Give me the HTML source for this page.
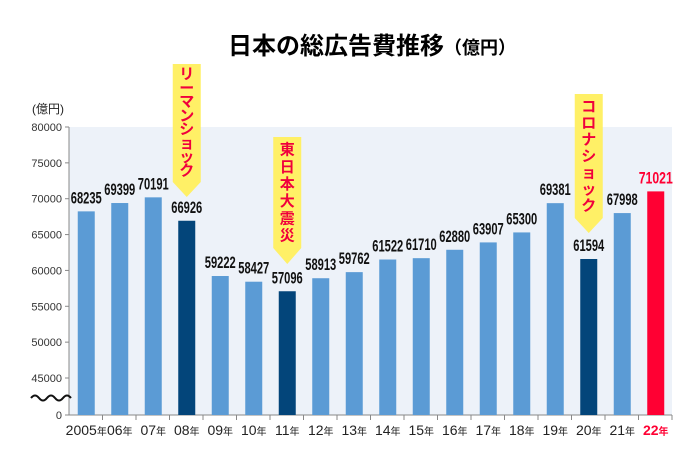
<!DOCTYPE html>
<html><head><meta charset="utf-8"><style>
body{margin:0;background:#fff;}
svg{display:block;font-family:"Liberation Sans","Noto Sans CJK JP",sans-serif;}
.val{font-family:"Liberation Sans",sans-serif;font-size:17px;font-weight:bold;}
</style></head><body>
<svg id="chart" width="679" height="459">
<text x="372" y="54" text-anchor="middle" font-size="24" font-weight="bold">日本の総広告費推移<tspan font-size="18">（億円）</tspan></text>
<rect x="69" y="127" width="603" height="288" fill="#edf2f9"/>
<text x="32" y="113" font-size="12" fill="#222">(億円)</text>
<g id="axes"></g>
<g id="bars"></g>
<g id="callouts"></g>
</svg>
<script>
const years=["2005","06","07","08","09","10","11","12","13","14","15","16","17","18","19","20","21","22"];
const values=[68235,69399,70191,66926,59222,58427,57096,58913,59762,61522,61710,62880,63907,65300,69381,61594,67998,71021];
const highlight=[3,6,15];
const yTicks=[45000,50000,55000,60000,65000,70000,75000,80000];
const callouts=[{i:3,text:"リーマンショック",top:64,rectBottom:182,tip:197},{i:6,text:"東日本大震災",top:137,rectBottom:248,tip:264},{i:15,text:"コロナショック",top:94,rectBottom:218,tip:233}];
const NS="http://www.w3.org/2000/svg";
const x0=69,step=33.5,bw=17;
function y(v){return 378-(v-45000)*251/35000;}
function cx(i){return x0+step*i+step/2+0.5;}
function mk(tag,attrs,parent){const e=document.createElementNS(NS,tag);for(const k in attrs)e.setAttribute(k,attrs[k]);parent.appendChild(e);return e;}
const axes=document.getElementById('axes'),bars=document.getElementById('bars'),co=document.getElementById('callouts');
let l=mk('line',{x1:69,y1:127,x2:69,y2:415,stroke:'#888','stroke-width':1},axes);


l=mk('line',{x1:69,y1:415,x2:672,y2:415,stroke:'#888','stroke-width':1},axes);


yTicks.forEach(t=>{const yy=y(t);
 mk('line',{x1:65,y1:yy,x2:69,y2:yy,stroke:'#888'},axes);
 const tx=mk('text',{x:62,y:yy+4,'text-anchor':'end','font-size':11,fill:'#333'},axes);tx.textContent=t;
 
 
});
mk('line',{x1:65,y1:415,x2:69,y2:415,stroke:'#888'},axes);
let z=mk('text',{x:62,y:419,'text-anchor':'end','font-size':11,fill:'#333'},axes);z.textContent='0';


let br=mk('path',{d:'M31 398 q4 -5 8 0 t8 0 t8 0 t8 0 t8 0',fill:'none',stroke:'#111','stroke-width':2},axes);


years.forEach((yr,i)=>{
 const v=values[i],c=cx(i),top=y(v);
 const last=i===years.length-1;
 const col=last?'#ff0033':(highlight.includes(i)?'#03457a':'#5b9bd5');
 const b=mk('rect',{x:c-bw/2,y:top,width:bw,height:415-top,fill:col},bars);
 
 
 const w=last?34:31;
 const t=mk('text',{x:c-w/2,y:top-8,textLength:w,lengthAdjust:'spacingAndGlyphs',class:'val',fill:last?'#ff0033':'#111','font-size':last?19:17,'font-weight':last?'normal':'bold'},bars);t.textContent=v;
 
 
 mk('line',{x1:x0+step*(i+1),y1:415,x2:x0+step*(i+1),y2:420,stroke:'#888'},axes);
 const xl=mk('text',{x:c,y:435,'text-anchor':'middle','font-size':14,fill:last?'#ff0033':'#222','font-weight':last?'bold':'normal'},axes);
 xl.innerHTML=yr+'<tspan font-size="10">年</tspan>';
 
 
});
callouts.forEach(o=>{
 const c=cx(o.i),l=c-14,r=c+14;
 const p=mk('path',{d:`M${l} ${o.top} H${r} V${o.rectBottom} L${c} ${o.tip} L${l} ${o.rectBottom} Z`,fill:'#fff066'},co);
 
 
 const chars=[...o.text];const gap=(o.rectBottom-o.top-8)/chars.length;
 chars.forEach((ch,k)=>{const t=mk('text',{x:c,y:o.top+4+gap*(k+0.8),'text-anchor':'middle','font-size':15,'font-weight':'bold',fill:'#f0003c'},co);t.textContent=ch;
 
 });
});
</script>
</body></html>
